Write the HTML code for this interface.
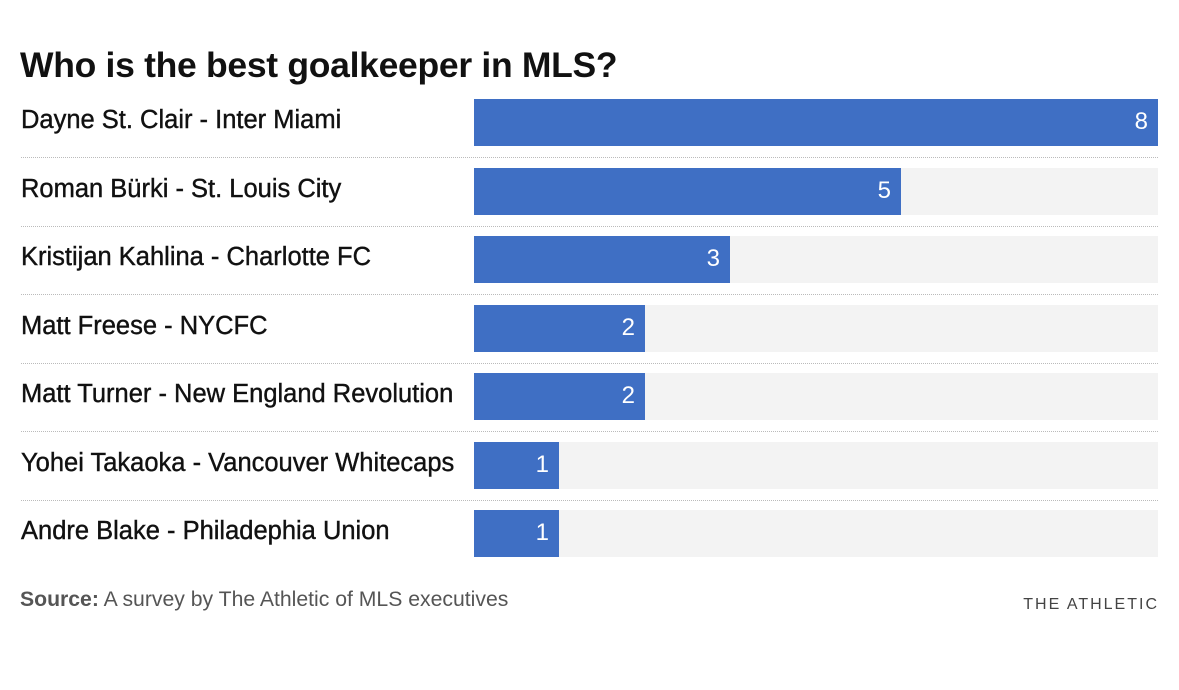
<!DOCTYPE html>
<html><head><style>
body{margin:0;width:1179px;height:690px;background:#fff;font-family:"Liberation Sans",sans-serif;position:relative;overflow:hidden}
.t{position:absolute;left:20px;top:45px;font-size:35.5px;font-weight:bold;color:#111;letter-spacing:-0.3px}
.row{position:absolute;left:0;width:1179px;height:47px}
.lab{position:absolute;left:21px;top:7px;font-size:25.5px;color:#111;white-space:nowrap;-webkit-text-stroke:0.4px #111}
.track{position:absolute;left:474px;width:684px;top:0;height:47px;background:#f3f3f3}
.bar{position:absolute;left:474px;top:0;height:47px;background:#3f6fc4}
.v{position:absolute;right:10px;top:9px;color:#fff;font-size:24px}
.sep{position:absolute;left:21px;width:1137px;border-top:1px dotted #bbb}
.src{position:absolute;left:20px;top:588px;font-size:21.2px;color:#555}
.brand{position:absolute;right:20px;top:596px;font-size:16px;color:#444;letter-spacing:2px}
</style></head><body>
<div class="t">Who is the best goalkeeper in MLS?</div>

<div class="row" style="top:99px"><div class="lab">Dayne St. Clair - Inter Miami</div><div class="track"></div><div class="bar" style="width:684px"><span class="v">8</span></div></div>
<div class="sep" style="top:157px"></div>
<div class="row" style="top:168px"><div class="lab">Roman Bürki - St. Louis City</div><div class="track"></div><div class="bar" style="width:427px"><span class="v">5</span></div></div>
<div class="sep" style="top:226px"></div>
<div class="row" style="top:236px"><div class="lab">Kristijan Kahlina - Charlotte FC</div><div class="track"></div><div class="bar" style="width:256px"><span class="v">3</span></div></div>
<div class="sep" style="top:294px"></div>
<div class="row" style="top:305px"><div class="lab">Matt Freese - NYCFC</div><div class="track"></div><div class="bar" style="width:171px"><span class="v">2</span></div></div>
<div class="sep" style="top:363px"></div>
<div class="row" style="top:373px"><div class="lab">Matt Turner - New England Revolution</div><div class="track"></div><div class="bar" style="width:171px"><span class="v">2</span></div></div>
<div class="sep" style="top:431px"></div>
<div class="row" style="top:442px"><div class="lab">Yohei Takaoka - Vancouver Whitecaps</div><div class="track"></div><div class="bar" style="width:85px"><span class="v">1</span></div></div>
<div class="sep" style="top:500px"></div>
<div class="row" style="top:510px"><div class="lab">Andre Blake - Philadephia Union</div><div class="track"></div><div class="bar" style="width:85px"><span class="v">1</span></div></div>

<div class="src"><b>Source:</b> A survey by The Athletic of MLS executives</div>
<div class="brand">THE ATHLETIC</div>
</body></html>
